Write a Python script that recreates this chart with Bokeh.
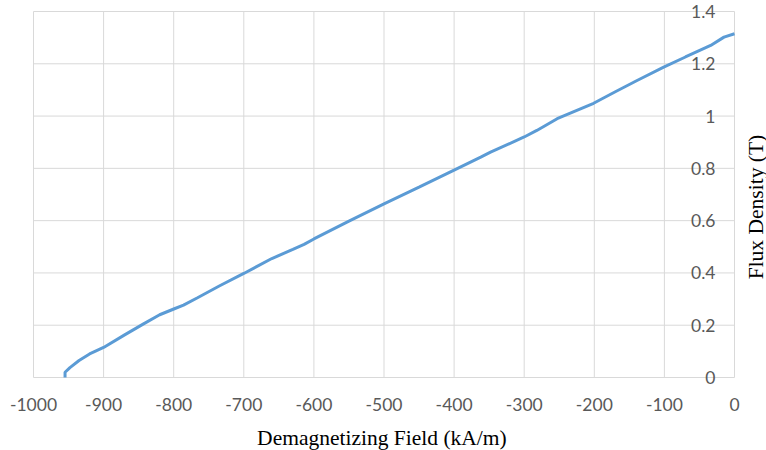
import math
from bokeh.plotting import figure
from bokeh.models import ColumnDataSource, Range1d
from bokeh.core.properties import value
from bokeh.embed import file_html
from bokeh.resources import INLINE

# Demagnetization curve
field_kAm = [-955, -955, -948, -935, -920, -900, -870, -843, -820, -799, -786, -766,
             -735, -700, -660, -630, -614, -600, -550, -500, -450, -400, -362, -348,
             -300, -282, -253, -230, -201, -170, -139, -101, -70, -34, -15, 0]
flux_T = [0.0, 0.02, 0.038, 0.065, 0.09, 0.115, 0.163, 0.205, 0.24, 0.263, 0.277, 0.305,
          0.35, 0.398, 0.455, 0.49, 0.509, 0.53, 0.598, 0.664, 0.728, 0.793, 0.843, 0.862,
          0.92, 0.945, 0.99, 1.016, 1.049, 1.093, 1.136, 1.187, 1.226, 1.27, 1.302, 1.315]

x_ticks = [-1000, -900, -800, -700, -600, -500, -400, -300, -200, -100, 0]
x_tick_labels = ["-1000", "-900", "-800", "-700", "-600", "-500", "-400", "-300", "-200", "-100", "0"]
y_ticks = [0, 0.2, 0.4, 0.6, 0.8, 1.0, 1.2, 1.4]
y_tick_labels = ["0", "0.2", "0.4", "0.6", "0.8", "1", "1.2", "1.4"]

x_title = "Demagnetizing Field (kA/m)"
y_title = "Flux Density (T)"

# ---- layout (pixels) ----
W, H = 766, 450
L, R, T, B = 33, 734, 11, 377          # plot area inside the canvas
X0, X1 = x_ticks[0], x_ticks[-1]
Y0, Y1 = y_ticks[0], y_ticks[-1]
kx = (R - L) / (X1 - X0)
ky = (B - T) / (Y1 - Y0)

GRID = "#d9d9d9"
TICK_TXT = "#595959"
LINE = "#5b9bd5"
SANS = "Lato"
SERIF = "Liberation Serif"

p = figure(width=W, height=H,
           x_range=Range1d(X0 - L / kx, X1 + (W - R) / kx),
           y_range=Range1d(Y0 - (H - B) / ky, Y1 + T / ky),
           output_backend="svg", toolbar_location=None,
           x_axis_location=None, y_axis_location=None, min_border=0)
p.outline_line_color = None
for g in p.grid:
    g.visible = False

# grid lines (from the tick lists)
p.segment(x0=x_ticks, y0=[Y0] * len(x_ticks), x1=x_ticks, y1=[Y1] * len(x_ticks),
          line_color=GRID, line_width=1)
p.segment(x0=[X0] * len(y_ticks), y0=y_ticks, x1=[X1] * len(y_ticks), y1=y_ticks,
          line_color=GRID, line_width=1)

# tick labels
xsrc = ColumnDataSource(dict(x=x_ticks, y=[Y0] * len(x_ticks), t=x_tick_labels))
p.text(x="x", y="y", text="t", source=xsrc, y_offset=27, text_align="center",
       text_baseline="middle", text_font=value(SANS), text_font_size="17.5px",
       text_color=TICK_TXT)
ysrc = ColumnDataSource(dict(x=[X1] * len(y_ticks), y=y_ticks, t=y_tick_labels))
p.text(x="x", y="y", text="t", source=ysrc, x_offset=-19, text_align="right",
       text_baseline="middle", text_font=value(SANS), text_font_size="17.5px",
       text_color=TICK_TXT)

# curve
p.line(field_kAm, flux_T, line_color=LINE, line_width=3)

# axis titles
p.text(x=[-503], y=[Y0], text=[x_title], y_offset=60, text_align="center",
       text_baseline="alphabetic", text_font=value(SERIF), text_font_size="21.5px",
       text_color="black")
p.text(x=[X1], y=[0.652], text=[y_title], x_offset=21, angle=math.pi / 2,
       text_align="center", text_baseline="middle", text_font=value(SERIF),
       text_font_size="21.5px", text_color="black")

open("out.html", "w").write(file_html(p, INLINE))
